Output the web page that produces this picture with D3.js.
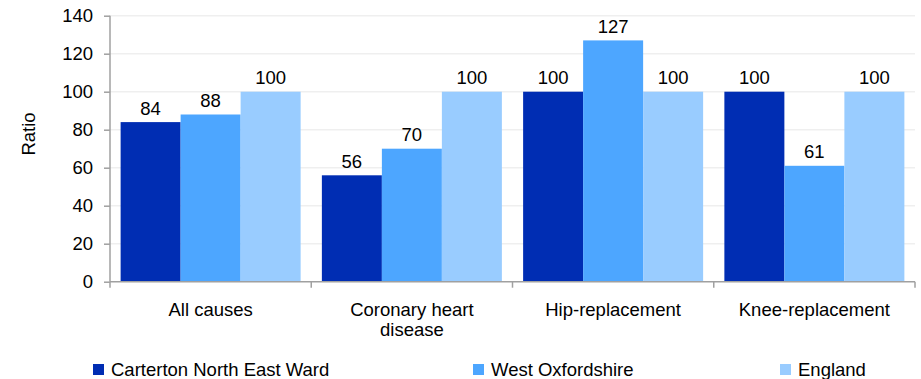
<!DOCTYPE html>
<html>
<head>
<meta charset="utf-8">
<script src="https://cdn.jsdelivr.net/npm/d3@7"></script>
<style>
  html, body { margin: 0; padding: 0; background: #fff; }
  svg { display: block; font-family: "Liberation Sans", Arial, sans-serif; }
</style>
</head>
<body>
<svg id="chart" width="921" height="379"></svg>
<script>
// Indirectly standardised ratios by cause, England = 100
const categories = [["All causes"], ["Coronary heart", "disease"], ["Hip-replacement"], ["Knee-replacement"]];
const seriesNames = ["Carterton North East Ward", "West Oxfordshire", "England"];
const carterton = [84, 56, 100, 100];
const westOxfordshire = [88, 70, 127, 61];
const england = [100, 100, 100, 100];
const yTicks = [0, 20, 40, 60, 80, 100, 120, 140];
const colors = ["#002db3", "#4da6ff", "#99ccff"];

const series = [carterton, westOxfordshire, england];
const svg = d3.select("#chart");
const plotLeft = 110, plotRight = 915, plotTop = 15.7, plotBottom = 281.7;
const fs = 18.5;

const catKeys = categories.map(c => c.join(" "));
const x = d3.scaleBand().domain(catKeys).range([plotLeft, plotRight]).padding(0);
const xs = d3.scaleBand().domain(d3.range(series.length))
  .range([0, x.bandwidth()]).paddingInner(0).paddingOuter(0.177);
const y = d3.scaleLinear().domain([0, 140]).range([plotBottom, plotTop]);

// gridlines
svg.append("g").selectAll("line").data(yTicks.filter(t => t > 0)).join("line")
  .attr("x1", plotLeft).attr("x2", plotRight)
  .attr("y1", d => y(d)).attr("y2", d => y(d))
  .attr("stroke", "#efefef").attr("stroke-width", 1.5);

// bars with value labels
const groups = svg.append("g").selectAll("g").data(catKeys).join("g")
  .attr("transform", d => `translate(${x(d)},0)`);
groups.each(function(cat, ci) {
  const g = d3.select(this);
  series.forEach((s, si) => {
    g.append("rect")
      .attr("x", xs(si)).attr("width", xs.bandwidth())
      .attr("y", y(s[ci])).attr("height", y(0) - y(s[ci]))
      .attr("fill", colors[si]);
    g.append("text")
      .attr("x", xs(si) + xs.bandwidth() / 2)
      .attr("y", y(s[ci]) - 7.5)
      .attr("text-anchor", "middle")
      .attr("font-size", fs).attr("fill", "#000")
      .text(s[ci]);
  });
});

// y axis
const yAxis = d3.axisLeft(y).tickValues(yTicks).tickSize(6).tickPadding(11);
const yg = svg.append("g").attr("transform", `translate(${plotLeft},0)`).call(yAxis);
yg.select(".domain").attr("stroke", "#a0a0a0").attr("stroke-width", 1.5).attr("d", `M0,${plotTop}V${plotBottom}`);
yg.selectAll(".tick line").attr("stroke", "#a0a0a0").attr("stroke-width", 1.5);
yg.selectAll(".tick text").attr("font-size", fs).attr("fill", "#000")
  .attr("font-family", "Liberation Sans, Arial, sans-serif");

// x axis baseline with boundary ticks
svg.append("line").attr("x1", plotLeft).attr("x2", plotRight).attr("y1", plotBottom).attr("y2", plotBottom)
  .attr("stroke", "#a0a0a0").attr("stroke-width", 1.5);
const bounds = catKeys.map(k => x(k)).concat([plotRight]);
svg.append("g").selectAll("line").data(bounds).join("line")
  .attr("x1", d => d).attr("x2", d => d)
  .attr("y1", plotBottom).attr("y2", plotBottom + 6)
  .attr("stroke", "#a0a0a0").attr("stroke-width", 1.5);

// category labels
categories.forEach((lines, i) => {
  const cx = x(catKeys[i]) + x.bandwidth() / 2;
  const t = svg.append("text")
    .attr("x", cx).attr("y", 316)
    .attr("text-anchor", "middle").attr("font-size", fs).attr("fill", "#000");
  lines.forEach((ln, j) => {
    t.append("tspan").attr("x", cx).attr("dy", j === 0 ? 0 : 20).text(ln);
  });
});

// y axis title
svg.append("text")
  .attr("transform", "translate(35,134) rotate(-90)")
  .attr("text-anchor", "middle").attr("font-size", fs).attr("fill", "#000")
  .text("Ratio");

// legend
const legendX = [93, 473, 780];
seriesNames.forEach((name, i) => {
  svg.append("rect").attr("x", legendX[i]).attr("y", 364).attr("width", 11).attr("height", 11)
    .attr("fill", colors[i]);
  svg.append("text").attr("x", legendX[i] + 18).attr("y", 376)
    .attr("font-size", fs).attr("fill", "#000").text(name);
});
</script>
</body>
</html>
